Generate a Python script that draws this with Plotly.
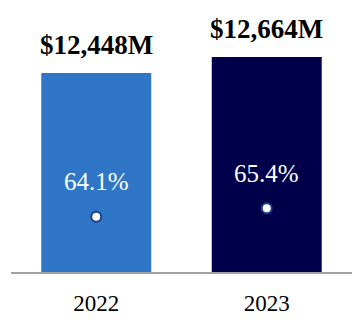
import plotly.graph_objects as go

years = ["2022", "2023"]
revenue = [12448, 12664]
revenue_labels = ["$12,448M", "$12,664M"]
margin_pct = [64.1, 65.4]
pct_labels = ["64.1%", "65.4%"]
bar_colors = ["#2F76C6", "#00004A"]

fig = go.Figure()
fig.add_trace(go.Bar(x=years, y=revenue, marker=dict(color=bar_colors, line=dict(width=0)),
                     hoverinfo="skip", showlegend=False))
fig.add_trace(go.Scatter(x=years, y=margin_pct, yaxis="y2", mode="markers",
                         marker=dict(size=10, color="white", line=dict(color="#1A3F8F", width=2)),
                         hoverinfo="skip", showlegend=False))

for i, (v, t) in enumerate(zip(revenue, revenue_labels)):
    fig.add_annotation(x=i, y=v, xref="x", yref="y", text="<b>" + t + "</b>", showarrow=False,
                       yanchor="middle", yshift=28,
                       font=dict(family="Liberation Serif, Times New Roman, serif", size=27, color="black"))
for i, (v, t) in enumerate(zip(margin_pct, pct_labels)):
    fig.add_annotation(x=i, y=v, xref="x", yref="y2", text=t, showarrow=False,
                       yanchor="middle", yshift=35,
                       font=dict(family="Liberation Serif, Times New Roman, serif", size=25, color="white"))

fig.update_layout(
    width=362, height=326,
    margin=dict(l=11, r=10, t=0, b=54),
    paper_bgcolor="white", plot_bgcolor="white",
    bargap=0.355,
    xaxis=dict(type="category", showline=True, linecolor="#A0A0A0", linewidth=2, showgrid=False, ticks="",
               tickfont=dict(family="Liberation Serif, Times New Roman, serif", size=23, color="black"),
               ticklabelstandoff=9, range=[-0.5, 1.5]),
    yaxis=dict(range=[9762, 13434], showticklabels=False, showgrid=False, zeroline=False, showline=False),
    yaxis2=dict(range=[55.54, 97.64], overlaying="y", showticklabels=False, showgrid=False,
                zeroline=False, showline=False),
)

fig.write_html("out.html")
